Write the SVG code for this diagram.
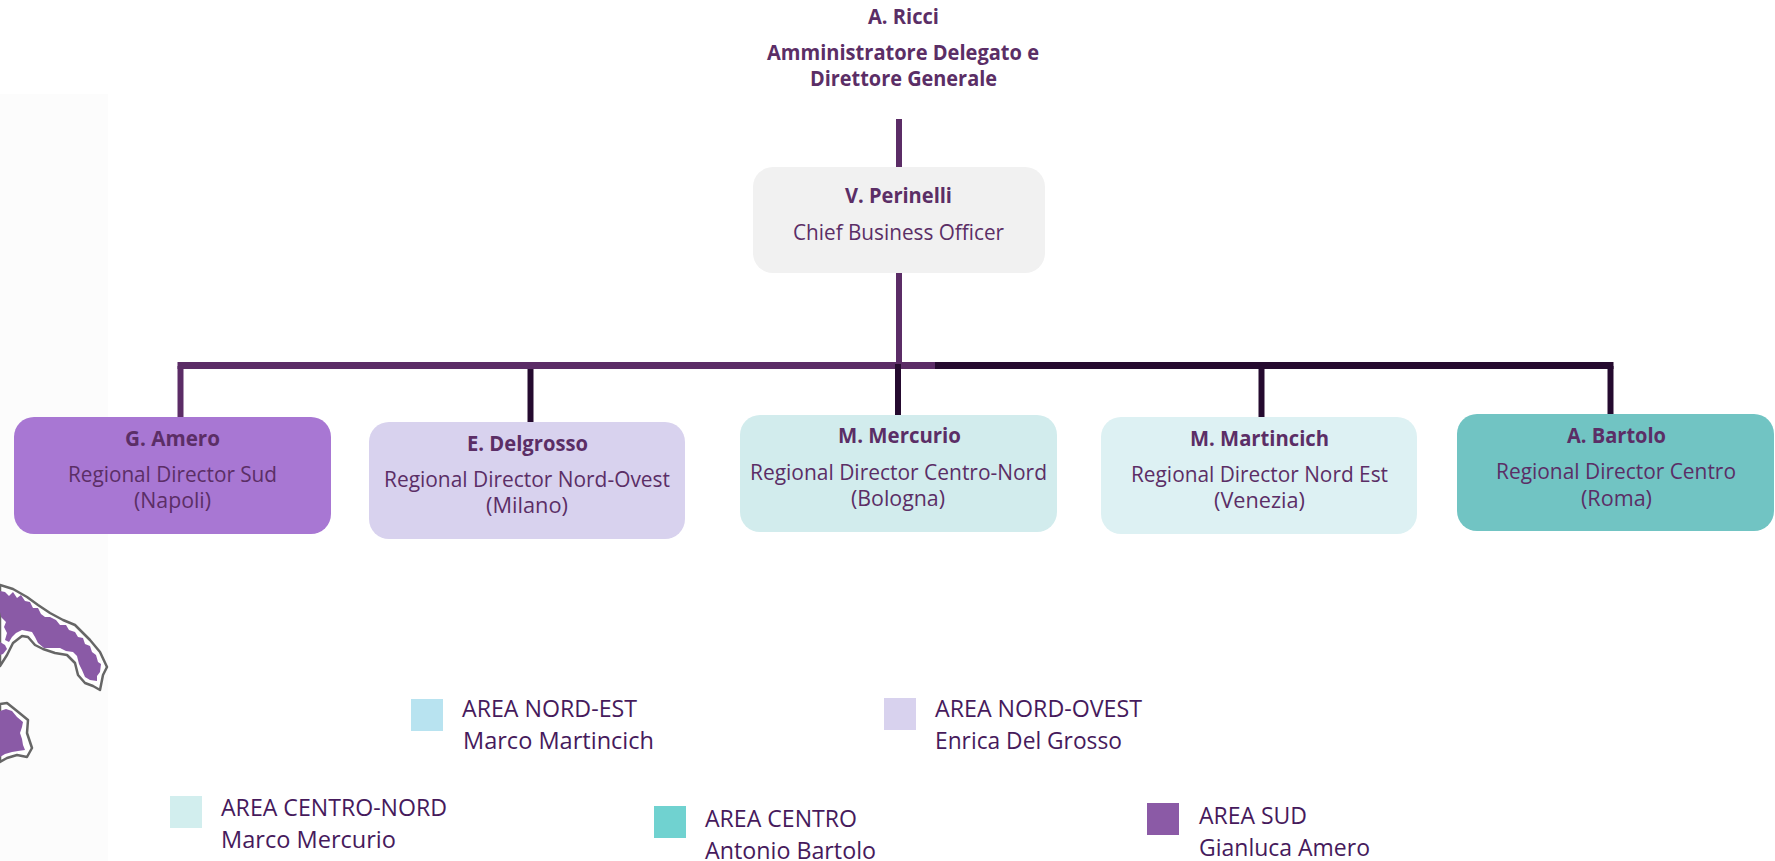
<svg xmlns="http://www.w3.org/2000/svg" width="1775" height="861" viewBox="0 0 1775 861">
<style>
text{font-family:"Open Sans","Noto Sans","Liberation Sans",sans-serif;fill:#5b2e66;font-size:21.500px}
.b{font-weight:700;font-size:21px}
.l{fill:#461a5c;font-size:23px}
.box{stroke:none}
.p{stroke:#5b2c66;stroke-width:6;fill:none}
.d{stroke:#250a2f;stroke-width:6;fill:none}
.h{stroke-width:7}
.outline{fill:#fff;stroke:#666;stroke-width:2.500;stroke-linejoin:round}
.terr{fill:#8a5aa6}
</style>
<rect id="map-bg" x="0" y="94" width="108" height="767" fill="#fcfcfc"/>
<g id="map">
<path class="outline" d="M0,585 L13,589 27,597 38,605 50,613 63,620 75,625 82,632 90,640 100,652 107,667 103,675 100,690 93,686 85,683 78,675 75,663 67,655 55,653 43,649 35,645 28,637 22,636 13,643 7,655 0,666Z"/>
<path class="terr" d="M0,591 L5,592 9,596 13,592 17,598 21,595 25,601 30,602 33,608 38,608 41,614 45,617 50,617 56,620 60,625 66,625 69,630 75,632 78,637 83,638 85,644 90,646 92,652 96,655 98,662 101,664 100,672 97,676 97,681 90,680 85,677 82,670 79,664 77,656 73,652 66,651 60,648 50,648 44,648 38,643 35,637 32,632 27,631 22,630 16,633 12,637 9,642 5,640 7,633 4,627 6,622 1,617 0,612Z"/>
<path class="terr" d="M0,642 L5,645 7,649 3,654 0,655Z"/>
<path class="outline" d="M0,704 L7,703 17,711 28,720 27,733 32,748 27,757 17,755 7,758 0,762Z"/>
<path class="terr" d="M0,711 L6,709 12,711 17,717 23,722 22,727 20,733 22,739 23,745 25,750 18,751 12,752 5,754 0,757Z"/>
</g>
<g id="connectors">
<path class="d" d="M530.500,366V422"/>
<path class="d" d="M1261.500,366V417"/>
<path class="d" d="M1610.500,366V414"/>
<path class="d h" d="M935,365.500H1613.500"/>
<path class="p" d="M899,119V167M899,273V363"/>
<path class="p" d="M180.500,417V366"/>
<path class="p h" d="M177.500,365.500H935"/>
<path class="d" d="M898,364V415"/>
</g>
<g id="a-ricci">
<text class="b" x="868" y="24" textLength="71" lengthAdjust="spacingAndGlyphs">A. Ricci</text>
<text class="b" x="767" y="60" textLength="272" lengthAdjust="spacingAndGlyphs">Amministratore Delegato e</text>
<text class="b" x="810" y="86" textLength="187" lengthAdjust="spacingAndGlyphs">Direttore Generale</text>
</g>
<g id="v-perinelli">
<rect class="box" x="753" y="167" width="292" height="106" rx="20" fill="#f1f1f1"/>
<text class="b" x="845" y="203" textLength="107" lengthAdjust="spacingAndGlyphs">V. Perinelli</text>
<text x="793" y="240" textLength="211" lengthAdjust="spacingAndGlyphs">Chief Business Officer</text>
</g>
<g id="g-amero">
<rect class="box" x="14" y="417" width="317" height="117" rx="20" fill="#a877d3"/>
<text class="b" x="125" y="446" textLength="95" lengthAdjust="spacingAndGlyphs">G. Amero</text>
<text x="68" y="482" textLength="209" lengthAdjust="spacingAndGlyphs">Regional Director Sud</text>
<text x="134" y="508" textLength="77" lengthAdjust="spacingAndGlyphs">(Napoli)</text>
</g>
<g id="e-delgrosso">
<rect class="box" x="369" y="422" width="316" height="117" rx="20" fill="#d8d2ee"/>
<text class="b" x="467" y="451" textLength="121" lengthAdjust="spacingAndGlyphs">E. Delgrosso</text>
<text x="384" y="487" textLength="286" lengthAdjust="spacingAndGlyphs">Regional Director Nord-Ovest</text>
<text x="486" y="513" textLength="82" lengthAdjust="spacingAndGlyphs">(Milano)</text>
</g>
<g id="m-mercurio">
<rect class="box" x="740" y="415" width="317" height="117" rx="20" fill="#d2eced"/>
<text class="b" x="838" y="443" textLength="123" lengthAdjust="spacingAndGlyphs">M. Mercurio</text>
<text x="750" y="480" textLength="297" lengthAdjust="spacingAndGlyphs">Regional Director Centro-Nord</text>
<text x="851" y="506" textLength="94" lengthAdjust="spacingAndGlyphs">(Bologna)</text>
</g>
<g id="m-martincich">
<rect class="box" x="1101" y="417" width="316" height="117" rx="20" fill="#ddf1f3"/>
<text class="b" x="1190" y="446" textLength="139" lengthAdjust="spacingAndGlyphs">M. Martincich</text>
<text x="1131" y="482" textLength="257" lengthAdjust="spacingAndGlyphs">Regional Director Nord Est</text>
<text x="1214" y="508" textLength="91" lengthAdjust="spacingAndGlyphs">(Venezia)</text>
</g>
<g id="a-bartolo">
<rect class="box" x="1457" y="414" width="317" height="117" rx="20" fill="#71c4c3"/>
<text class="b" x="1567" y="443" textLength="99" lengthAdjust="spacingAndGlyphs">A. Bartolo</text>
<text x="1496" y="479" textLength="240" lengthAdjust="spacingAndGlyphs">Regional Director Centro</text>
<text x="1581" y="506" textLength="71" lengthAdjust="spacingAndGlyphs">(Roma)</text>
</g>
<g id="legend-nord-est">
<rect x="411" y="699" width="32" height="32" fill="#b8e3f0"/>
<text class="l" x="462" y="717" textLength="175" lengthAdjust="spacingAndGlyphs">AREA NORD-EST</text>
<text class="l" x="463" y="749" textLength="191" lengthAdjust="spacingAndGlyphs">Marco Martincich</text>
</g>
<g id="legend-nord-ovest">
<rect x="884" y="698" width="32" height="32" fill="#d8d2ee"/>
<text class="l" x="935" y="717" textLength="207" lengthAdjust="spacingAndGlyphs">AREA NORD-OVEST</text>
<text class="l" x="935" y="749" textLength="187" lengthAdjust="spacingAndGlyphs">Enrica Del Grosso</text>
</g>
<g id="legend-centro-nord">
<rect x="170" y="796" width="32" height="32" fill="#d2eeee"/>
<text class="l" x="221" y="816" textLength="226" lengthAdjust="spacingAndGlyphs">AREA CENTRO-NORD</text>
<text class="l" x="221" y="848" textLength="175" lengthAdjust="spacingAndGlyphs">Marco Mercurio</text>
</g>
<g id="legend-centro">
<rect x="654" y="806" width="32" height="32" fill="#70d2d0"/>
<text class="l" x="705" y="827" textLength="152" lengthAdjust="spacingAndGlyphs">AREA CENTRO</text>
<text class="l" x="705" y="859" textLength="171" lengthAdjust="spacingAndGlyphs">Antonio Bartolo</text>
</g>
<g id="legend-sud">
<rect x="1147" y="803" width="32" height="32" fill="#8b5aa6"/>
<text class="l" x="1199" y="824" textLength="108" lengthAdjust="spacingAndGlyphs">AREA SUD</text>
<text class="l" x="1199" y="856" textLength="171" lengthAdjust="spacingAndGlyphs">Gianluca Amero</text>
</g>
</svg>
